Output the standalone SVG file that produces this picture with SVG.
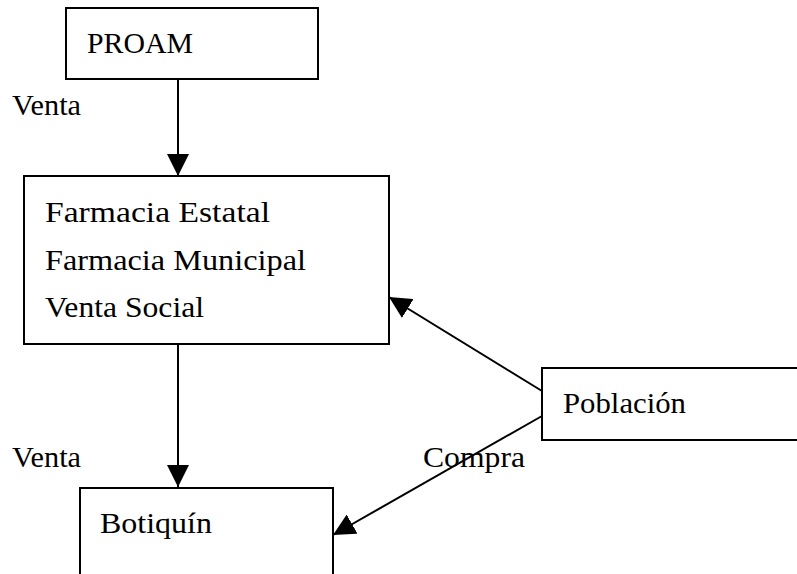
<svg xmlns="http://www.w3.org/2000/svg" width="797" height="574" viewBox="0 0 797 574">
<style>
.box{fill:#fff;stroke:#000;stroke-width:2}
.t{font-family:"Liberation Serif","Times New Roman",serif;font-size:29px;fill:#000}
.c{font-family:"Liberation Serif","Times New Roman",serif;font-size:29px;fill:#000}
.ln{stroke:#000;stroke-width:2;fill:none}
</style>
<defs>
<marker id="ah" markerUnits="userSpaceOnUse" markerWidth="22" markerHeight="22" viewBox="0 0 20 20" refX="20" refY="10" orient="auto">
<path d="M0,0 L20,10 L0,20 z" fill="#000"/>
</marker>
</defs>
<rect width="797" height="574" fill="#fff"/>
<g id="proam">
<rect class="box" x="66" y="8" width="252" height="71"/>
<text class="c" x="87" y="53" textLength="106" lengthAdjust="spacingAndGlyphs">PROAM</text>
</g>
<g id="farmacia">
<rect class="box" x="24" y="176" width="365" height="168"/>
<text class="c" x="45" y="222" textLength="225" lengthAdjust="spacingAndGlyphs">Farmacia Estatal</text>
<text class="c" x="45" y="270" textLength="261" lengthAdjust="spacingAndGlyphs">Farmacia Municipal</text>
<text class="c" x="45" y="317" textLength="159" lengthAdjust="spacingAndGlyphs">Venta Social</text>
</g>
<g id="poblacion">
<rect class="box" x="542" y="368" width="300" height="72"/>
<text class="c" x="563" y="413" textLength="123" lengthAdjust="spacingAndGlyphs">Población</text>
</g>
<g id="botiquin">
<rect class="box" x="80" y="488" width="253" height="120"/>
<text class="c" x="100" y="533" textLength="112" lengthAdjust="spacingAndGlyphs">Botiquín</text>
</g>
<g id="connectors">
<line class="ln" x1="178" y1="79" x2="178" y2="176" marker-end="url(#ah)"/>
<line class="ln" x1="178" y1="344" x2="178" y2="487" marker-end="url(#ah)"/>
<line class="ln" x1="542" y1="391" x2="389" y2="297" marker-end="url(#ah)"/>
<line class="ln" x1="542" y1="416" x2="333" y2="535" marker-end="url(#ah)"/>
</g>
<g id="labels">
<text class="t" x="12" y="115" textLength="69" lengthAdjust="spacingAndGlyphs">Venta</text>
<text class="t" x="12" y="467" textLength="69" lengthAdjust="spacingAndGlyphs">Venta</text>
<text class="t" x="423" y="467" textLength="102" lengthAdjust="spacingAndGlyphs">Compra</text>
</g>
</svg>
